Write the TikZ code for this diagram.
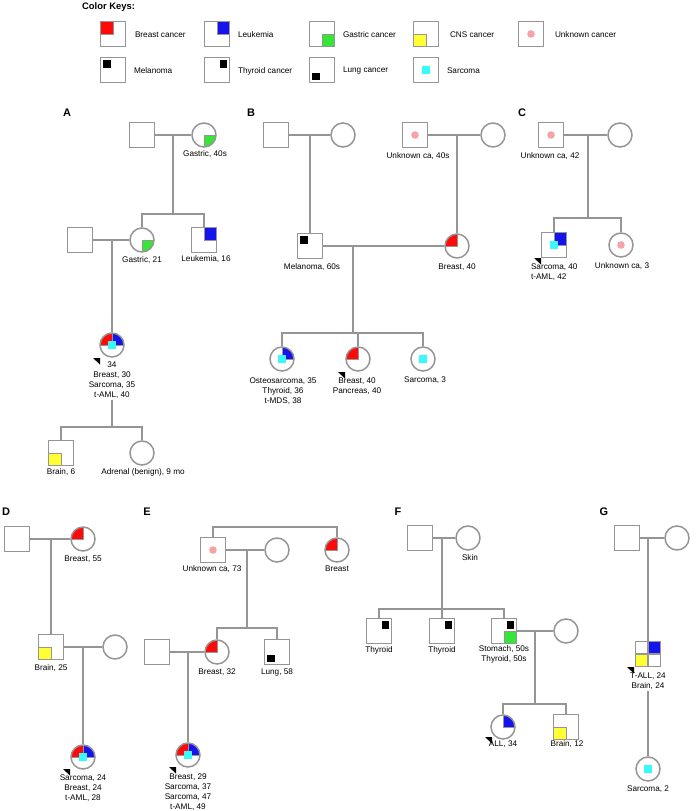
\documentclass[tikz,border=0pt]{standalone}
\usepackage{fontspec}
\setmainfont{Liberation Sans}
\usetikzlibrary{calc}
\definecolor{pedgray}{HTML}{959595}
\definecolor{bred}{HTML}{FF0A0A}
\definecolor{bblue}{HTML}{1414EB}
\definecolor{bgreen}{HTML}{36E636}
\definecolor{byellow}{HTML}{FFFF33}
\definecolor{bcyan}{HTML}{38FAFA}
\definecolor{bpink}{HTML}{F5A3A8}

% marks drawn inside a symbol (path picture clips them to its shape)
\newcommand{\mkbr}{\filldraw[bred,draw=pedgray,line width=.8pt] (path picture bounding box.north west) rectangle (path picture bounding box.center);}
\newcommand{\mkle}{\filldraw[bblue,draw=pedgray,line width=.8pt] (path picture bounding box.north east) rectangle (path picture bounding box.center);}
\newcommand{\mkga}{\filldraw[bgreen,draw=pedgray,line width=.8pt] (path picture bounding box.south east) rectangle (path picture bounding box.center);}
\newcommand{\mkcn}{\filldraw[byellow,draw=pedgray,line width=.8pt] (path picture bounding box.south west) rectangle (path picture bounding box.center);}
\newcommand{\mkun}{\fill[bpink] (path picture bounding box.center) circle (3.8);}
\newcommand{\mkme}{\fill[black] ($(path picture bounding box.north west)+(2.5,2.5)$) rectangle ++(7.5,7.5);}
\newcommand{\mkth}{\fill[black] ($(path picture bounding box.north east)+(-10,2.5)$) rectangle ++(7.5,7.5);}
\newcommand{\mklu}{\fill[black] ($(path picture bounding box.south west)+(2.5,-10)$) rectangle ++(7.5,7.5);}
\newcommand{\mksa}{\fill[bcyan] ($(path picture bounding box.center)+(-3.75,-3.75)$) rectangle ++(7.5,7.5);}
\newcommand{\mkgr}{\draw[pedgray,line width=1.2pt] (path picture bounding box.north) -- (path picture bounding box.south)
  (path picture bounding box.west) -- (path picture bounding box.east);}
\newcommand{\proband}[1]{\fill[black] (#1) -- ++(-7,0) -- ++(7,6.5) -- cycle;}

\begin{document}
\begin{tikzpicture}[x=1pt,y=-1pt,
  kin/.style={draw=pedgray,line width=1.5pt},
  male/.style={rectangle,draw=pedgray,line width=1.5pt,fill=white,minimum size=25pt,inner sep=0pt},
  female/.style={male,circle,minimum size=24pt},
  cancers/.style={path picture={\foreach \m in {#1}{\csname mk\m\endcsname}}},
  lbl/.style={font=\fontsize{8.2}{10}\selectfont,inner sep=0pt,outer sep=2pt,align=center},
  panel/.style={font=\bfseries\fontsize{11}{13}\selectfont,inner sep=0pt}]
  \useasboundingbox (0,0) rectangle (696,811);

  % color keys
  \node[font=\bfseries\fontsize{9.4}{11}\selectfont,anchor=west,inner sep=0pt] (keys) at (82,7) {Color Keys:};
  \node[male,cancers={br}] (k1) at (113,34) {};
  \node[male,cancers={le}] (k2) at (217,34) {};
  \node[male,cancers={ga}] (k3) at (322,34) {};
  \node[male,cancers={cn}] (k4) at (426,34) {};
  \node[male,cancers={un}] (k5) at (531,34) {};
  \node[male,cancers={me}] (k6) at (113,70) {};
  \node[male,cancers={th}] (k7) at (217,70) {};
  \node[male,cancers={lu}] (k8) at (322,70) {};
  \node[male,cancers={sa}] (k9) at (426,70) {};
  \node[lbl,anchor=west] (lk1) at (133,35) {Breast cancer};
  \node[lbl,anchor=west] (lk2) at (236,35) {Leukemia};
  \node[lbl,anchor=west] (lk3) at (341,35) {Gastric cancer};
  \node[lbl,anchor=west] (lk4) at (448,35) {CNS cancer};
  \node[lbl,anchor=west] (lk5) at (553,35) {Unknown cancer};
  \node[lbl,anchor=west] (lk6) at (132,71) {Melanoma};
  \node[lbl,anchor=west] (lk7) at (236,71) {Thyroid cancer};
  \node[lbl,anchor=west] (lk8) at (341,71) {Lung cancer};
  \node[lbl,anchor=west] (lk9) at (445,71) {Sarcoma};

  % A
  \node[panel] (pA) at (67,113) {A};
  \node[male] (A1) at (142,135) {};
  \node[female,cancers={ga}] (A2) at (204,135) {};
  \node[female,cancers={ga}] (A3) at (142,240) {};
  \node[male,cancers={le}] (A4) at (204,240) {};
  \node[male] (A5) at (80,240) {};
  \node[female,cancers={br,le,sa}] (A6) at (112,345) {};
  \node[male,cancers={cn}] (A7) at (61,453) {};
  \node[female] (A8) at (142,453) {};
  \node[lbl] (lA2) at (205,154) {Gastric, 40s};
  \node[lbl] (lA3) at (142,260) {Gastric, 21};
  \node[lbl] (lA4) at (206,259) {Leukemia, 16};
  \node[lbl] (lA6) at (112,380) {34\\Breast, 30\\Sarcoma, 35\\t-AML, 40};
  \node[lbl] (lA7) at (61,472) {Brain, 6};
  \node[lbl] (lA8) at (143,472) {Adrenal (benign), 9 mo};
  \coordinate (cA1) at (173,135);
  \coordinate (sA1) at (173,214);
  \coordinate (cA2) at (112,240);
  \coordinate (sA2) at (112,427);
  \draw[kin] (A1) -- (A2);
  \draw[kin] (cA1) -- (sA1);
  \draw[kin] (A3.north) |- (sA1) -| (A4.north);
  \draw[kin] (A5) -- (A3);
  \draw[kin] (cA2) -- (A6);
  \draw[kin] (lA6) -- (sA2);
  \draw[kin] (A7.north) |- (sA2) -| (A8.north);
  \proband{100,358}

  % B
  \node[panel] (pB) at (251,113) {B};
  \node[male] (B1) at (276,135) {};
  \node[female] (B2) at (343,135) {};
  \node[male,cancers={un}] (B3) at (415,135) {};
  \node[female] (B4) at (493,135) {};
  \node[male,cancers={me}] (B5) at (310,246) {};
  \node[female,cancers={br}] (B6) at (457,246) {};
  \node[female,cancers={le,sa}] (B7) at (282,359) {};
  \node[female,cancers={br}] (B8) at (358,359) {};
  \node[female,cancers={sa}] (B9) at (423,359) {};
  \node[lbl] (lB3) at (418,156) {Unknown ca, 40s};
  \node[lbl] (lB5) at (312,267) {Melanoma, 60s};
  \node[lbl] (lB6) at (457,267) {Breast, 40};
  \node[lbl] (lB7) at (283,391) {Osteosarcoma, 35\\Thyroid, 36\\t-MDS, 38};
  \node[lbl] (lB8) at (357,386) {Breast, 40\\Pancreas, 40};
  \node[lbl] (lB9) at (425,380) {Sarcoma, 3};
  \coordinate (cB1) at (310,135);
  \coordinate (cB2) at (457,135);
  \coordinate (cB3) at (353,246);
  \coordinate (sB) at (353,333);
  \draw[kin] (B1) -- (B2);
  \draw[kin] (B3) -- (B4);
  \draw[kin] (cB1) -- (B5);
  \draw[kin] (cB2) -- (B6);
  \draw[kin] (B5) -- (B6);
  \draw[kin] (cB3) -- (sB);
  \draw[kin] (B7.north) |- (sB) -| (B9.north);
  \draw[kin] (B8.north) -- (B8.north |- sB);
  \proband{345,372}

  % C
  \node[panel] (pC) at (522,113) {C};
  \node[male,cancers={un}] (C1) at (551,135) {};
  \node[female] (C2) at (620,135) {};
  \node[male,cancers={le,sa}] (C3) at (554,245) {};
  \node[female,cancers={un}] (C4) at (621,245) {};
  \node[lbl] (lC1) at (550,156) {Unknown ca, 42};
  \node[lbl,align=left,anchor=west] (lC3) at (529,272) {Sarcoma, 40\\t-AML, 42};
  \node[lbl] (lC4) at (622,266) {Unknown ca, 3};
  \coordinate (cC) at (588,135);
  \coordinate (sC) at (588,218);
  \draw[kin] (C1) -- (C2);
  \draw[kin] (cC) -- (sC);
  \draw[kin] (C3.north) |- (sC) -| (C4.north);
  \proband{541,258}

  % D
  \node[panel] (pD) at (6,512) {D};
  \node[male] (D1) at (17,539) {};
  \node[female,cancers={br}] (D2) at (83,539) {};
  \node[male,cancers={cn}] (D3) at (51,647) {};
  \node[female] (D4) at (115,647) {};
  \node[female,cancers={br,le,sa}] (D5) at (83,757) {};
  \node[lbl] (lD2) at (83,559) {Breast, 55};
  \node[lbl] (lD3) at (51,668) {Brain, 25};
  \node[lbl] (lD5) at (83,788) {Sarcoma, 24\\Breast, 24\\t-AML, 28};
  \coordinate (cD1) at (51,539);
  \coordinate (cD2) at (83,647);
  \draw[kin] (D1) -- (D2);
  \draw[kin] (cD1) -- (D3);
  \draw[kin] (D3) -- (D4);
  \draw[kin] (cD2) -- (D5);
  \proband{70,769}

  % E
  \node[panel] (pE) at (147,512) {E};
  \node[male,cancers={un}] (E1) at (213,550) {};
  \node[female] (E2) at (277,550) {};
  \node[female,cancers={br}] (E3) at (337,550) {};
  \node[male] (E6) at (157,652) {};
  \node[female,cancers={br}] (E4) at (217,652) {};
  \node[male,cancers={lu}] (E5) at (277,652) {};
  \node[female,cancers={br,le,sa}] (E7) at (188,755) {};
  \node[lbl] (lE1) at (212,569) {Unknown ca, 73};
  \node[lbl] (lE3) at (337,569) {Breast};
  \node[lbl] (lE4) at (217,672) {Breast, 32};
  \node[lbl] (lE5) at (277,672) {Lung, 58};
  \node[lbl] (lE7) at (188,792) {Breast, 29\\Sarcoma, 37\\Sarcoma, 47\\t-AML, 49};
  \coordinate (tE) at (275,527);
  \coordinate (cE1) at (247,550);
  \coordinate (sE) at (247,628);
  \coordinate (cE2) at (188,652);
  \draw[kin] (E1.north) |- (tE) -| (E3.north);
  \draw[kin] (E1) -- (E2);
  \draw[kin] (cE1) -- (sE);
  \draw[kin] (E4.north) |- (sE) -| (E5.north);
  \draw[kin] (E6) -- (E4);
  \draw[kin] (cE2) -- (E7);
  \proband{176,767}

  % F
  \node[panel] (pF) at (398,512) {F};
  \node[male] (F1) at (420,538) {};
  \node[female] (F2) at (468,538) {};
  \node[male,cancers={th}] (F3) at (379,631) {};
  \node[male,cancers={th}] (F4) at (442,631) {};
  \node[male,cancers={th,ga}] (F5) at (504,631) {};
  \node[female] (F6) at (566,631) {};
  \node[female,cancers={le}] (F7) at (503,727) {};
  \node[male,cancers={cn}] (F8) at (566,727) {};
  \node[lbl] (lF2) at (470,558) {Skin};
  \node[lbl] (lF3) at (379,650) {Thyroid};
  \node[lbl] (lF4) at (442,650) {Thyroid};
  \node[lbl] (lF5) at (504,654) {Stomach, 50s\\Thyroid, 50s};
  \node[lbl] (lF7) at (503,744) {ALL, 34};
  \node[lbl] (lF8) at (567,744) {Brain, 12};
  \coordinate (cF1) at (442,538);
  \coordinate (sF1) at (442,609);
  \coordinate (cF2) at (535,631);
  \coordinate (sF2) at (535,704);
  \draw[kin] (F1) -- (F2);
  \draw[kin] (cF1) -- (sF1);
  \draw[kin] (F3.north) |- (sF1) -| (F5.north);
  \draw[kin] (F4.north) -- (F4.north |- sF1);
  \draw[kin] (F5) -- (F6);
  \draw[kin] (cF2) -- (sF2);
  \draw[kin] (F7.north) |- (sF2) -| (F8.north);
  \proband{492,737}

  % G
  \node[panel] (pG) at (604,512) {G};
  \node[male] (G1) at (627,538) {};
  \node[female] (G2) at (677,538) {};
  \node[male,cancers={le,cn,gr}] (G3) at (648,654) {};
  \node[female,cancers={sa}] (G4) at (648,769) {};
  \node[lbl] (lG3) at (648,681) {T-ALL, 24\\Brain, 24};
  \node[lbl] (lG4) at (648,789) {Sarcoma, 2};
  \coordinate (cG) at (648,538);
  \draw[kin] (G1) -- (G2);
  \draw[kin] (cG) -- (G3);
  \draw[kin] (lG3) -- (G4);
  \proband{634,667}
\end{tikzpicture}
\end{document}
